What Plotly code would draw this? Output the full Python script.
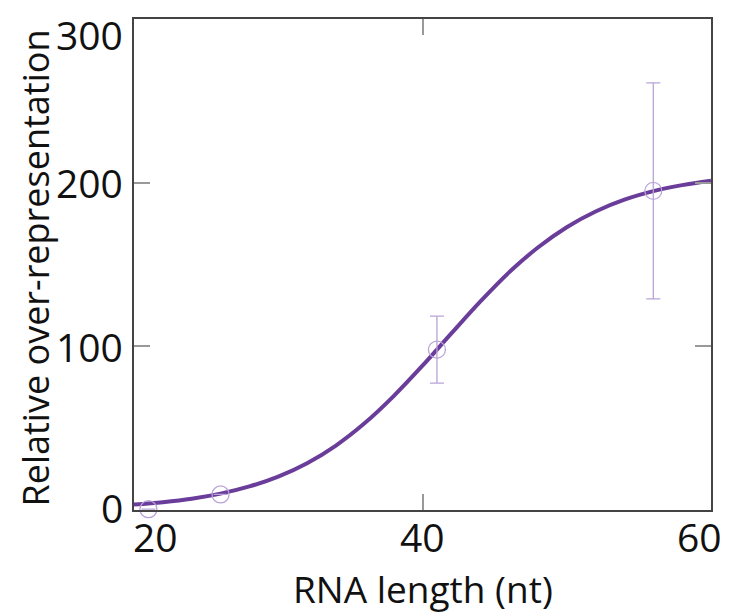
import plotly.graph_objects as go

# Measured data points
pt_x = [21, 26, 41, 56]
pt_y = [0.5, 9.5, 98, 195]
pt_err = [0, 0, 20.5, 66]

# Fitted curve
fit_x = [20, 22, 24, 26, 28, 30, 32, 34, 36, 38, 40, 42, 44, 46, 48, 50, 52, 54, 56, 58, 60]
fit_y = [3.3, 4.8, 6.9, 10.0, 14.4, 20.4, 28.6, 39.4, 53.1, 69.6, 88.2, 107.9, 127.3,
         145.2, 160.4, 172.8, 182.4, 189.6, 194.8, 198.5, 201.2]

x_ticks = [20, 40, 60]
x_tick_labels = ["20", "40", "60"]
y_ticks = [0, 100, 200, 300]
y_tick_labels = ["0", "100", "200", "300"]

x_title = "RNA length (nt)"
y_title = "Relative over-representation"

FONT = "Open Sans"
TXT = "#111"

fig = go.Figure()
fig.add_trace(go.Scatter(
    x=fit_x, y=fit_y, mode="lines", line=dict(color="#6a3d9a", width=4, shape="spline"),
    showlegend=False, hoverinfo="skip"))
fig.add_trace(go.Scatter(
    x=pt_x, y=pt_y, mode="markers",
    marker=dict(symbol="circle-open", size=17, color="#b9a3d8", line=dict(width=1.3)),
    error_y=dict(type="data", array=pt_err, visible=True, color="#b9a3d8", thickness=1.3, width=7),
    showlegend=False, cliponaxis=False))

axis_common = dict(
    showline=True, linecolor="#444", linewidth=2, mirror="ticks",
    ticks="inside", ticklen=16, tickwidth=1.5, tickcolor="#999",
    showgrid=False, zeroline=False, showticklabels=False,
)
fig.update_xaxes(range=[20, 60], tickvals=x_ticks, **axis_common)
fig.update_yaxes(range=[0, 300], tickvals=y_ticks, **axis_common)

ann = []
# x tick labels
x_anchor = {"20": ("left", -2), "40": ("center", 0), "60": ("right", 12)}
for v, t in zip(x_ticks, x_tick_labels):
    a, s = x_anchor[t]
    ann.append(dict(x=v, xref="x", y=0, yref="paper", text=t, showarrow=False,
                    xanchor=a, xshift=s, yanchor="top", yshift=1, borderpad=0,
                    font=dict(family=FONT, size=39, color=TXT)))
# y tick labels
for v, t in zip(y_ticks, y_tick_labels):
    ys = -15 if v == 300 else (3 if v == 0 else 0)
    ann.append(dict(x=0, xref="paper", y=v, yref="y", text=t, showarrow=False,
                    xanchor="right", xshift=-10, yanchor="middle", yshift=ys, borderpad=0,
                    font=dict(family=FONT, size=39, color=TXT)))
ann.append(dict(x=0.5, xref="paper", y=0, yref="paper", text=x_title, showarrow=False,
                xanchor="center", yanchor="middle", yshift=-78, borderpad=0,
                font=dict(family=FONT, size=37, color=TXT)))
ann.append(dict(x=0, xref="paper", y=0.5, yref="paper", text=y_title, showarrow=False,
                textangle=-90, xanchor="center", yanchor="middle", xshift=-99, yshift=-4,
                borderpad=0, font=dict(family=FONT, size=36, color=TXT)))

fig.update_layout(width=730, height=614, margin=dict(l=126, r=27, t=9, b=112),
                  plot_bgcolor="white", paper_bgcolor="white", annotations=ann)
fig.write_html("out.html")
